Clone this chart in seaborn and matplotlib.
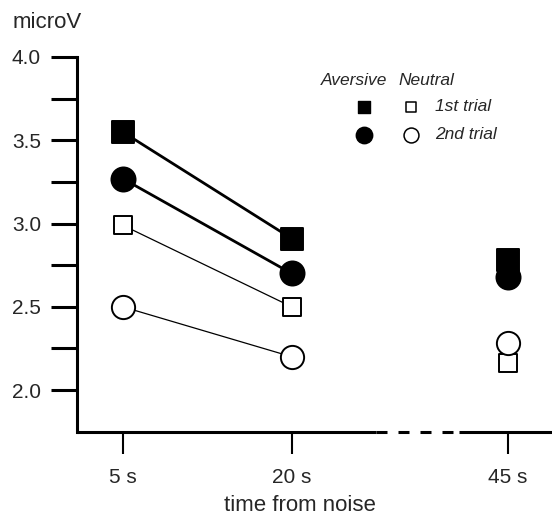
import matplotlib
matplotlib.use("Agg")
import matplotlib.pyplot as plt
import seaborn as sns
import numpy as np

# data
time_labels = ["5 s", "20 s", "45 s"]
time_pos = [0, 1, 2.28]   # 45 s sits after the axis break
aversive_1st = [3.55, 2.91, 2.78]
aversive_2nd = [3.27, 2.70, 2.68]
neutral_1st = [2.99, 2.50, 2.16]
neutral_2nd = [2.50, 2.20, 2.28]

sns.set_style("white")
plt.rcParams["font.family"] = ["Liberation Sans", "DejaVu Sans"]

fig = plt.figure(figsize=(5.52, 5.19), dpi=100)
ax = fig.add_axes([0.1395, 0.1676, 0.8605, 0.7226])

series = [
    (aversive_1st, "s", "black", 240, 2.0),
    (aversive_2nd, "o", "black", 300, 2.0),
    (neutral_1st, "s", "white", 170, 0.9),
    (neutral_2nd, "o", "white", 280, 0.9),
]

# connecting lines only between 5 s and 20 s
for vals, mk, fc, s, lw in series:
    sns.lineplot(x=time_pos[:2], y=vals[:2], color="black", lw=lw, ax=ax,
                 legend=False, zorder=2)
for vals, mk, fc, s, lw in series:
    sns.scatterplot(x=time_pos, y=vals, marker=mk, s=s, color=fc,
                    edgecolor="black", linewidth=1.4, ax=ax, zorder=3,
                    clip_on=False, legend=False)

ax.set_xlim(-0.27, 2.54)
ax.set_ylim(1.748, 4.0)

# axes styling
for side in ["top", "right", "bottom"]:
    ax.spines[side].set_visible(False)
ax.spines["left"].set_linewidth(2.2)
ax.spines["left"].set_color("black")
ax.spines["left"].set_bounds(1.748, 4.0)

# broken x axis
ymin = 1.748
ax.plot([-0.27, 1.50], [ymin, ymin], color="black", lw=2.2, clip_on=False,
        solid_capstyle="butt", zorder=4)
ax.plot([1.50, 1.99], [ymin, ymin], color="black", lw=2.2, clip_on=False,
        linestyle=(0, (3.6, 3.6)), dash_capstyle="butt", zorder=4)
ax.plot([1.99, 2.54], [ymin, ymin], color="black", lw=2.2, clip_on=False,
        solid_capstyle="butt", zorder=4)

ax.set_yticks([2.0, 2.5, 3.0, 3.5, 4.0])
ax.set_yticks([2.25, 2.75, 3.25, 3.75], minor=True)
ax.set_yticklabels(["2.0", "2.5", "3.0", "3.5", "4.0"])
ax.tick_params(axis="y", which="both", direction="out", length=19, width=2.2,
               color="black", left=True, pad=7, labelsize=15)
ax.set_xticks(time_pos)
ax.set_xticklabels(time_labels)
ax.tick_params(axis="x", direction="out", length=16, width=1.5,
               color="black", bottom=True, pad=10, labelsize=15)
ax.set_xlabel("time from noise", fontsize=16)
ax.xaxis.set_label_coords(0.47, -0.168)
ax.set_ylabel("")
fig.text(0.022, 0.957, "microV", fontsize=16, ha="left", va="center")

# legend drawn by hand
tr = ax.transAxes
ax.text(0.514, 0.936, "Aversive", style="italic", fontsize=12.5, transform=tr,
        va="center", ha="left")
ax.text(0.676, 0.936, "Neutral", style="italic", fontsize=12.5, transform=tr,
        va="center", ha="left")
ax.scatter([0.604], [0.867], marker="s", s=85, color="black", transform=tr)
ax.scatter([0.703], [0.867], marker="s", s=60, color="white",
           edgecolor="black", linewidth=1.1, transform=tr)
ax.scatter([0.604], [0.792], marker="o", s=140, color="black", transform=tr)
ax.scatter([0.703], [0.792], marker="o", s=115, color="white",
           edgecolor="black", linewidth=1.1, transform=tr)
ax.text(0.754, 0.867, "1st trial", style="italic", fontsize=12.5, transform=tr,
        va="center", ha="left")
ax.text(0.754, 0.792, "2nd trial", style="italic", fontsize=12.5, transform=tr,
        va="center", ha="left")

fig.savefig("out.png", dpi=100)
